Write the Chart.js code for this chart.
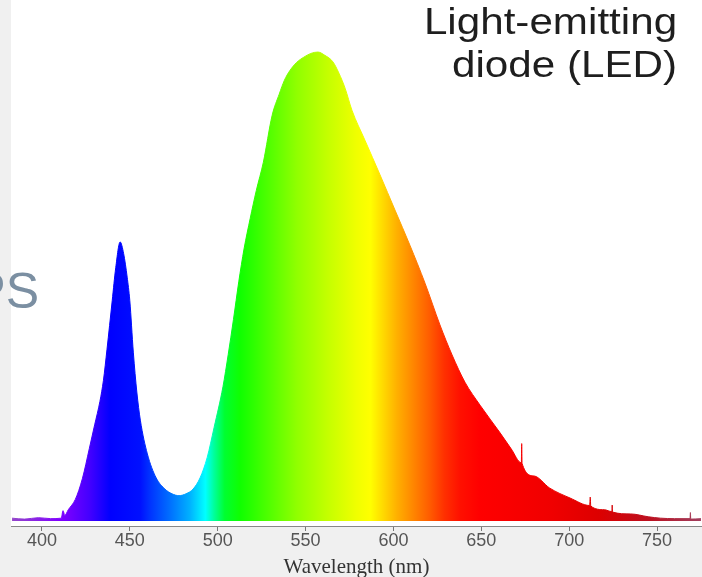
<!DOCTYPE html>
<html>
<head>
<meta charset="utf-8">
<script src="https://cdn.jsdelivr.net/npm/chart.js@4/dist/chart.umd.min.js"></script>
<style>
    html, body { margin: 0; padding: 0; }
    body { width: 702px; height: 577px; background: #f0f0f0; position: relative; overflow: hidden; }
    #spectrumChart { position: absolute; left: 0; top: 0; }
    .led-label {
        position: absolute; right: 25px; top: 0px;
        font-family: 'Liberation Sans', Arial, sans-serif; font-size: 37px; line-height: 43px;
        text-align: right; color: #1e1e1e; white-space: nowrap;
        transform: scaleX(1.14); transform-origin: right top;
    }
    .ps-label {
        position: absolute; right: 663px; top: 266px;
        font-family: 'Liberation Sans', Arial, sans-serif; font-size: 50px; line-height: 50px;
        color: #7b8fa2; white-space: nowrap;
    }
</style>
</head>
<body>
<canvas id="spectrumChart" width="702" height="577"></canvas>
<div class="led-label">Light-emitting<br>diode (LED)</div>
<div class="ps-label">PS</div>
<script>
// wavelength (nm) and relative intensity
const wavelengths = [383, 390, 398, 405, 411, 412, 413, 415, 419, 423, 427, 430, 433, 435, 437, 440, 442, 444.5, 446.5, 448.5,
    450, 452, 454, 456, 460, 465, 470, 474, 478, 482, 486, 490, 494, 498, 503, 506, 509, 512, 515, 518.5,
    522, 526, 531, 535, 538, 541, 545, 549, 553, 557, 561, 565.6, 569, 572.5, 576.4, 583.8, 592.4, 600.9, 609.4, 618,
    626.5, 633.4, 640.7, 649.3, 660.7, 667, 672.8, 673, 673.2, 680, 689, 700.5, 711.7, 712, 712.3, 720,
    724.3, 724.5, 724.7, 735, 745, 752, 760, 768.8, 769, 769.2, 775];
const intensity = [0.6, 0.4, 0.7, 0.5, 0.6, 2.2, 1.2, 2.4, 4.6, 9, 15.5, 20.5, 25.5, 30, 36.5, 47, 54, 59.5, 57, 52,
    47, 36, 27.5, 21.5, 14.3, 9.2, 6.8, 5.8, 5.4, 5.8, 6.8, 9.2, 13.5, 20, 28.6, 35.5, 43, 51, 58, 64.5,
    70.5, 76.5, 86.5, 91, 94, 96, 97.8, 98.9, 99.7, 100, 99.3, 97.9, 95.5, 92.3, 87.6, 81.2, 73.8, 66.3, 58.8, 50.7,
    41.8, 35.4, 29.6, 24.7, 18.8, 15.4, 12.4, 16.5, 12.3, 9.6, 7, 4.9, 3.3, 5.1, 3.2, 2.4,
    2.0, 3.4, 1.9, 1.5, 0.9, 0.6, 0.5, 0.5, 1.8, 0.4, 0.5];
const tickValues = [400, 450, 500, 550, 600, 650, 700, 750];

// colour of the fill along the wavelength axis
const colorStops = [
    [380, '#9448c8'], [410, '#8000ff'], [416, '#7000ff'], [427, '#4400ff'], [439, '#0000ff'],
    [456, '#0010ff'], [461, '#0030ff'], [473, '#0070ff'], [484, '#00b0ff'], [493, '#00ffff'],
    [498, '#00ff9a'], [504, '#00ff30'], [513, '#10ff00'], [526, '#44ff00'], [545, '#90ff00'],
    [564, '#c8ff00'], [579, '#f0ff00'], [587, '#ffff00'], [602, '#ffb000'], [621, '#ff5a00'],
    [629, '#ff3000'], [638, '#ff1000'], [649, '#ff0000'], [690, '#f00000'], [717, '#dd0000'],
    [746, '#bb1020'], [776, '#a04060']
];

function spectrumGradient(context) {
    const chart = context.chart;
    const area = chart.chartArea;
    if (!area) {
        return '#00ff00';
    }
    const xScale = chart.scales.x;
    const g = chart.ctx.createLinearGradient(area.left, 0, area.right, 0);
    colorStops.forEach(function (s) {
        let t = (xScale.getPixelForValue(s[0]) - area.left) / (area.right - area.left);
        t = Math.min(1, Math.max(0, t));
        g.addColorStop(t, s[1]);
    });
    return g;
}

const whiteArea = {
    id: 'whiteArea',
    beforeDraw: function (chart) {
        const a = chart.chartArea;
        chart.ctx.save();
        chart.ctx.fillStyle = '#ffffff';
        chart.ctx.fillRect(a.left, a.top, a.right - a.left, a.bottom - a.top);
        chart.ctx.restore();
    }
};

const ctx = document.getElementById('spectrumChart').getContext('2d');
new Chart(ctx, {
    type: 'line',
    data: {
        datasets: [{
            data: wavelengths.map((w, i) => ({ x: w, y: intensity[i] })),
            fill: 'origin',
            backgroundColor: spectrumGradient,
            borderColor: spectrumGradient,
            borderWidth: 1,
            pointRadius: 0,
            cubicInterpolationMode: 'monotone'
        }]
    },
    options: {
        responsive: false,
        animation: false,
        layout: { padding: { left: 11, right: 0, top: 0, bottom: 0 } },
        plugins: {
            legend: { display: false },
            tooltip: { enabled: false }
        },
        scales: {
            x: {
                type: 'linear',
                min: 382.4,
                max: 775.6,
                afterBuildTicks: function (scale) {
                    scale.ticks = tickValues.map(v => ({ value: v }));
                },
                afterFit: function (scale) {
                    scale.height = 51;
                },
                ticks: {
                    includeBounds: false,
                    color: '#555555',
                    padding: 1,
                    maxRotation: 0,
                    font: { family: "'Liberation Sans', Arial, sans-serif", size: 18, lineHeight: 1 }
                },
                grid: { drawOnChartArea: false, tickLength: 5, color: '#777777' },
                border: { color: '#888888', width: 1 },
                title: {
                    display: true,
                    text: 'Wavelength (nm)',
                    color: '#333333',
                    padding: { top: 0, bottom: -1 },
                    font: { family: "'Liberation Serif', 'Times New Roman', serif", size: 21, lineHeight: 1 }
                }
            },
            y: {
                display: false,
                min: -1.07,
                max: 111.1
            }
        }
    },
    plugins: [whiteArea]
});
</script>
</body>
</html>
